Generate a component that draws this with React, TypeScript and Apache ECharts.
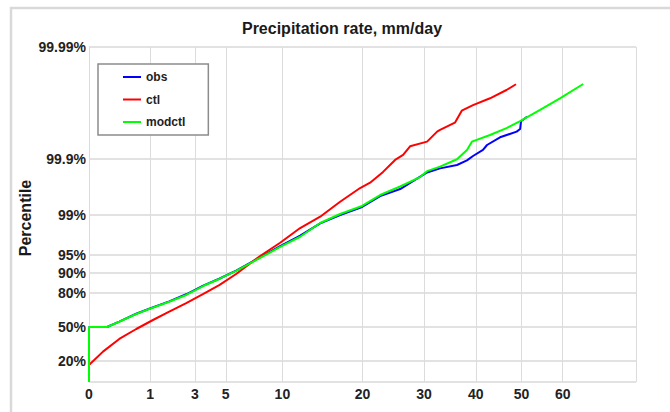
import React, { useEffect, useRef } from 'react';
import * as echarts from 'echarts';

// x axis: precipitation rate (mm/day), square-root scale
const X_TICKS = [0, 1, 3, 5, 10, 20, 30, 40, 50, 60];
const X_MAX = 80;

// y axis: percentile, probability-type scale
const Y_TICKS = [20, 50, 80, 90, 95, 99, 99.9, 99.99];
const Y_TICK_LABELS = ['20%', '50%', '80%', '90%', '95%', '99%', '99.9%', '99.99%'];
// knots of the non-linear percentile scale (percentile -> axis units)
const PROB_KNOTS = [0, 20, 50, 80, 90, 95, 99, 99.9, 99.99];
const AXIS_KNOTS = [0, 21, 55, 89, 109, 127, 167, 223, 335];

const SERIES_NAMES = ['obs', 'ctl', 'modctl'];
const SERIES_COLORS = ['#0000ff', '#ff0000', '#00ff00'];

const obsX = [0, 0, 0.087, 0.245, 0.597, 0.971, 1.722, 2.527, 3.489, 4.533, 5.79, 7.83, 9.77, 11.92, 14.29, 16.86, 19.94, 22.66, 25.88, 30.56, 32.95, 36.2, 38.2, 39.43, 41.5, 42.36, 45.17, 48.9, 49.7, 49.9, 51.3];
const obsP = [0, 50, 50, 56.8, 65.0, 69.4, 74.9, 79.3, 84.5, 87.8, 90.9, 94.5, 96.5, 97.7, 98.6, 99.0, 99.28, 99.54, 99.656, 99.826, 99.853, 99.872, 99.894, 99.906, 99.917, 99.925, 99.936, 99.943, 99.946, 99.954, 99.958];

const ctlX = [0, 0.0523, 0.245, 0.597, 1.094, 1.722, 2.527, 3.47, 4.533, 5.79, 7.83, 9.77, 11.92, 14.29, 16.86, 19.65, 21.13, 23.12, 25.05, 26.38, 27.56, 30.56, 32.4, 32.95, 35.8, 37.15, 39.43, 43.0, 46.6, 48.75];
const ctlP = [16.5, 29.7, 41.0, 48.6, 58.6, 66.9, 73.8, 79.4, 84.8, 89.65, 94.8, 96.95, 98.31, 98.93, 99.42, 99.67, 99.735, 99.83, 99.896, 99.908, 99.923, 99.93, 99.943, 99.945, 99.9526, 99.963, 99.967, 99.9713, 99.9758, 99.9785];

const modX = [0, 0, 0.087, 0.245, 0.597, 0.971, 1.722, 2.527, 3.489, 4.533, 5.79, 7.83, 9.77, 11.92, 14.29, 16.86, 19.94, 22.66, 25.88, 29.3, 30.56, 32.95, 36.2, 38.2, 39.2, 43.0, 46.6, 49.7, 54.4, 59.3, 65.3];
const modP = [0, 50, 50, 56.6, 64.8, 69.2, 74.7, 78.9, 84.3, 87.7, 90.8, 94.4, 96.4, 97.6, 98.62, 99.04, 99.31, 99.56, 99.69, 99.79, 99.835, 99.863, 99.899, 99.917, 99.93, 99.939, 99.947, 99.954, 99.9635, 99.9713, 99.9786];

const FONT = '"Liberation Sans", Arial, Helvetica, sans-serif';

const exceed = (p: number) => (p >= 100 ? 10 : -Math.log10(1 - p / 100));
const KNOTS_U = PROB_KNOTS.map(exceed);
function toAxis(p: number): number {
  const u = exceed(p);
  for (let i = 1; i < KNOTS_U.length; i++) {
    if (u <= KNOTS_U[i] || i === KNOTS_U.length - 1) {
      const t = (u - KNOTS_U[i - 1]) / (KNOTS_U[i] - KNOTS_U[i - 1]);
      return AXIS_KNOTS[i - 1] + t * (AXIS_KNOTS[i] - AXIS_KNOTS[i - 1]);
    }
  }
  return 0;
}
const toX = (x: number) => Math.sqrt(x);

const makeData = (xs: number[], ps: number[]) => xs.map((x, i) => [toX(x), toAxis(ps[i])]);

export default function App() {
  const ref = useRef<HTMLDivElement>(null);
  useEffect(() => {
    document.body.style.margin = '0';
    if (!ref.current) return;
    const chart = echarts.init(ref.current, null, { renderer: 'svg' });
    const yTickVals = Y_TICKS.map(toAxis);
    const option: any = {
      animation: false,
      backgroundColor: '#ffffff',
      graphic: [
        {
          type: 'rect',
          z: -10,
          shape: { x: 11, y: 8, width: 800, height: 600 },
          style: { fill: 'none', stroke: '#d9d9d9', lineWidth: 2.5 },
        },
        {
          type: 'text',
          x: 342,
          y: 28,
          style: {
            text: 'Precipitation rate, mm/day',
            textAlign: 'center',
            textVerticalAlign: 'middle',
            font: `bold 16px ${FONT}`,
            fill: '#1a1a1a',
          },
        },
        {
          type: 'text',
          x: 25,
          y: 218,
          rotation: Math.PI / 2,
          style: {
            text: 'Percentile',
            textAlign: 'center',
            textVerticalAlign: 'middle',
            font: `bold 16px ${FONT}`,
            fill: '#1a1a1a',
          },
        },
      ],
      legend: {
        orient: 'vertical',
        left: 98,
        top: 64,
        data: SERIES_NAMES,
        icon: 'rect',
        itemWidth: 18,
        itemHeight: 2,
        itemGap: 8.5,
        padding: [6, 23, 6, 25],
        borderColor: '#8c8c8c',
        borderWidth: 1.5,
        backgroundColor: '#ffffff',
        textStyle: { fontSize: 12, fontWeight: 'bold', color: '#222', fontFamily: FONT, height: 14, lineHeight: 14 },
      },
      grid: { left: 89, top: 47, right: 34, bottom: 30 },
      xAxis: {
        type: 'value',
        min: 0,
        max: toX(X_MAX),
        axisLine: { show: false },
        axisTick: { show: false, customValues: [...X_TICKS, X_MAX].map(toX) },
        axisLabel: {
          customValues: X_TICKS.map(toX),
          formatter: (v: number) => String(Math.round(v * v)),
          fontSize: 14,
          fontWeight: 'bold',
          color: '#222',
          fontFamily: FONT,
          margin: 5,
        },
        splitLine: { show: true, lineStyle: { color: '#dcdcdc', width: 1 } },
      },
      yAxis: {
        type: 'value',
        min: 0,
        max: AXIS_KNOTS[AXIS_KNOTS.length - 1],
        axisLine: { show: false },
        axisTick: { show: false, customValues: [0, ...yTickVals] },
        axisLabel: {
          customValues: yTickVals,
          formatter: (v: number) => {
            const i = yTickVals.findIndex((t) => Math.abs(t - v) < 1e-6);
            return i >= 0 ? Y_TICK_LABELS[i] : '';
          },
          fontSize: 14,
          fontWeight: 'bold',
          color: '#222',
          fontFamily: FONT,
          margin: 3,
        },
        splitLine: { show: true, lineStyle: { color: '#e2e2e2', width: 2 } },
      },
      series: [
        { name: SERIES_NAMES[0], data: makeData(obsX, obsP) },
        { name: SERIES_NAMES[1], data: makeData(ctlX, ctlP) },
        { name: SERIES_NAMES[2], data: makeData(modX, modP) },
      ].map((s, i) => ({
        ...s,
        type: 'line',
        symbol: 'none',
        color: SERIES_COLORS[i],
        lineStyle: { color: SERIES_COLORS[i], width: 2 },
      })),
    };
    chart.setOption(option);
    return () => chart.dispose();
  }, []);
  return <div ref={ref} style={{ width: 670, height: 412 }} />;
}
